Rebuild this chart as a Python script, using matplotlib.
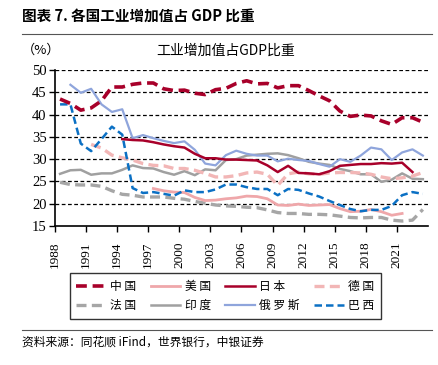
import matplotlib
matplotlib.use("Agg")
import matplotlib.pyplot as plt
import numpy as np
from matplotlib.lines import Line2D

plt.rcParams['font.family'] = ['Noto Sans CJK SC', 'DejaVu Sans']

years = list(range(1988, 2024))

china = [43.5, 42.5, 41.0, 41.5, 43.1, 46.2, 46.2, 46.8, 47.1, 47.1, 45.8, 45.4,
         45.5, 44.8, 44.5, 45.6, 45.9, 47.0, 47.6, 46.9, 47.0, 46.0, 46.5, 46.5,
         45.4, 44.2, 43.1, 40.8, 39.6, 39.9, 39.7, 38.6, 37.8, 39.3, 39.3, 38.3]
usa = [None]*9 + [23.4, 22.9, 22.6, 22.5, 21.4, 20.7, 20.8, 21.1, 21.3, 21.7, 21.6,
                  21.1, 19.7, 19.6, 19.9, 19.6, 19.7, 19.8, 18.9, 18.2, 18.3, 18.7,
                  18.2, 17.4, 17.8, None, None]
japan = [None]*6 + [34.5, 34.3, 34.2, 33.8, 33.3, 32.9, 32.6, 31.2, 30.2, 30.2,
                    29.9, 29.9, 29.8, 29.7, 28.6, 27.1, 28.5, 26.9, 26.8, 26.6,
                    27.3, 28.5, 28.7, 28.9, 28.9, 29.1, 29.0, 29.2, 27.1, None]
germany = [None]*3 + [33.3, 32.5, 30.9, 30.3, 29.8, 29.0, 28.6, 28.5, 27.9, 27.9,
                      27.5, 26.8, 26.0, 26.0, 26.3, 26.9, 27.1, 26.6, 24.1, 26.7,
                      27.1, 26.7, 26.6, 26.9, 27.0, 27.0, 26.9, 26.6, 26.0, 25.6,
                      25.8, 26.2, 27.0]
france = [24.8, 24.3, 24.2, 24.2, 23.9, 22.9, 22.1, 21.9, 21.5, 21.5, 21.5, 21.2,
          21.0, 20.5, 20.1, 19.7, 19.5, 19.4, 19.2, 19.1, 18.6, 18.0, 17.8, 17.8,
          17.6, 17.6, 17.5, 17.2, 16.9, 16.8, 16.9, 16.9, 16.3, 16.1, 16.3, 18.7]
india = [26.7, 27.5, 27.6, 26.5, 26.8, 26.8, 27.6, 28.6, 28.0, 27.9, 27.1, 26.5,
         27.3, 26.4, 27.7, 27.5, 29.8, 30.0, 30.8, 31.0, 31.2, 31.3, 30.9, 30.2,
         29.4, 29.0, 28.7, 27.8, 27.3, 26.6, 26.6, 24.9, 25.4, 26.8, 25.6, 25.5]
russia = [None] + [46.7, 44.9, 45.8, 42.3, 40.6, 41.2, 34.7, 35.4, 34.7, 34.1,
                   33.6, 34.0, 32.1, 29.0, 28.6, 30.9, 31.9, 31.2, 30.8, 30.8,
                   29.5, 30.1, 29.8, 29.6, 28.9, 28.3, 30.0, 29.4, 30.8, 32.6,
                   32.2, 29.8, 31.5, 32.2, 30.8]
brazil = [42.3, 42.3, 33.5, 31.8, 34.5, 37.3, 35.5, 23.5, 22.4, 22.6, 22.2, 21.8,
          23.0, 22.6, 22.6, 23.2, 24.3, 24.3, 23.7, 23.3, 23.3, 21.9, 23.3, 23.1,
          22.3, 21.6, 20.6, 19.7, 18.8, 18.3, 18.6, 18.6, 19.5, 21.9, 22.6, 22.2]

labels = ['中国', '美国', '日本', '德国', '法国', '印度', '俄罗斯', '巴西']
colors = ['#A8002A', '#EFA7AA', '#A8002A', '#F2B6B6', '#A6A6A6', '#A0A0A0', '#8FA5DC', '#0B70C4']
styles = [(0, (3, 1.6)), '-', '-', (0, (3, 1.6)), (0, (3, 1.6)), '-', '-', (0, (3, 1.6))]
widths = [2.6, 2.0, 1.8, 2.4, 2.4, 1.8, 1.6, 1.8]
series = [china, usa, japan, germany, france, india, russia, brazil]

fig = plt.figure(figsize=(4.39, 3.65), dpi=100)
ax = fig.add_axes([0.125, 0.381, 0.85, 0.427])

x = np.array(years) + 0.5
order = [5, 4, 1, 3, 6, 7, 2, 0]
handles = {}
for i in order:
    y = np.array([np.nan if v is None else v for v in series[i]], dtype=float)
    ln, = ax.plot(x, y, color=colors[i], linestyle=styles[i], linewidth=widths[i],
                  label=labels[i], zorder=3)
    handles[i] = ln

ax.set_xlim(1988, 2024)
ax.set_ylim(15, 50)
ax.set_yticks(range(15, 51, 5))
ax.set_xticks(list(range(1988, 2024, 3)))
ax.set_xticklabels([str(v) for v in range(1988, 2024, 3)], rotation=90,
                   fontfamily='Liberation Serif', fontsize=9.5)
for t in ax.get_yticklabels():
    t.set_fontfamily('Liberation Serif')
    t.set_fontsize(10.5)
for yv in range(20, 51, 5):
    ax.axhline(yv, color='black', linestyle=(0, (3, 2)), linewidth=0.9, zorder=1)
for s in ['top', 'right']:
    ax.spines[s].set_visible(False)
ax.spines['left'].set_linewidth(1.2)
ax.spines['bottom'].set_linewidth(1.2)
ax.tick_params(axis='both', direction='out', length=4, width=1.0, pad=2)
ax.tick_params(axis='x', pad=7)

# legend laid out row-major (4 columns x 2 rows): matplotlib fills column-major
leg_order = [0, 4, 1, 5, 2, 6, 3, 7]
spaced = [' '.join(list(l)) for l in labels]
leg = fig.legend([handles[i] for i in leg_order], [spaced[i] for i in leg_order],
                 loc='center', bbox_to_anchor=(0.513, 0.189),
                 ncol=4, frameon=True, fancybox=False, fontsize=8.5,
                 handlelength=2.5, handletextpad=0.4, columnspacing=1.2,
                 borderpad=0.55, labelspacing=0.55)
leg.get_frame().set_edgecolor('black')
leg.get_frame().set_linewidth(1.0)

fig.text(0.05, 0.958, '图表 7. 各国工业增加值占 GDP 比重', fontsize=10.5, fontweight='bold',
         va='center', ha='left')
fig.add_artist(Line2D([0.05, 0.985], [0.907, 0.907], color='#555555', linewidth=0.8))
fig.text(0.05, 0.862, '（%）', fontsize=9.5, va='center', ha='left')
fig.text(0.515, 0.862, '工业增加值占GDP比重', fontsize=10, va='center', ha='center')
fig.add_artist(Line2D([0.05, 0.985], [0.096, 0.096], color='#555555', linewidth=0.8))
fig.text(0.05, 0.064, '资料来源：同花顺 iFind，世界银行，中银证券', fontsize=8.5,
         style='italic', va='center', ha='left')

fig.savefig('out.png', dpi=100)
